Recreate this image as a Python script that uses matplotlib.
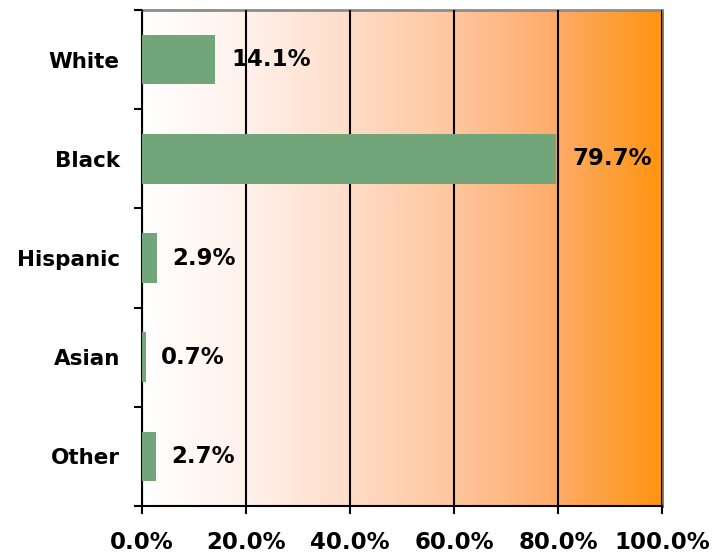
import numpy as np
import matplotlib
matplotlib.use('Agg')
import matplotlib.pyplot as plt
from matplotlib.colors import LinearSegmentedColormap
from matplotlib.ticker import FixedLocator, FuncFormatter

groups = ['White', 'Black', 'Hispanic', 'Asian', 'Other']
shares = [14.1, 79.7, 2.9, 0.7, 2.7]
xticks = [0, 20, 40, 60, 80, 100]

bg = LinearSegmentedColormap.from_list('bg', [
    (0.0, '#ffffff'), (0.2, '#fff1eb'), (0.4, '#ffdcc7'),
    (0.6, '#ffc69e'), (0.8, '#fdab68'), (1.0, '#ff9410')])

fig = plt.figure(figsize=(7.18, 5.54), dpi=100)
ax = fig.add_axes([0.1978, 0.0866, 0.7242, 0.8953])

ax.imshow(np.linspace(0, 1, 256).reshape(1, -1), cmap=bg, aspect='auto',
          extent=[0, 100, -0.5, 4.5], zorder=0)

pos = np.arange(len(groups))
ax.barh(pos, shares, height=0.5, color='#72a57a', zorder=3)
for p, v in zip(pos, shares):
    ax.text(v + 3.0, p, '%.1f%%' % v, va='center', ha='left',
            fontsize=16.5, fontweight='bold', zorder=4)

ax.set_xlim(0, 100)
ax.set_ylim(4.5, -0.5)
ax.set_xticks(xticks)
ax.xaxis.set_major_formatter(FuncFormatter(lambda x, _: '%.1f%%' % x))
ax.grid(axis='x', color='black', lw=1.5, zorder=1)
ax.set_axisbelow(False)

ax.set_yticks(pos)
ax.set_yticklabels(groups)
ax.yaxis.set_minor_locator(FixedLocator(np.arange(-0.5, 5, 1)))
ax.tick_params(axis='y', which='major', length=0, pad=16)
ax.tick_params(axis='y', which='minor', length=6, width=1.5, direction='out')
ax.tick_params(axis='x', length=6, width=1.5, pad=12)
for lab in ax.get_yticklabels():
    lab.set_fontweight('bold')
    lab.set_fontsize(15.5)
for lab in ax.get_xticklabels():
    lab.set_fontweight('bold')
    lab.set_fontsize(16.5)

ax.spines['left'].set_linewidth(1.5)
ax.spines['bottom'].set_linewidth(1.5)
ax.spines['top'].set_color('#8c8c8c')
ax.spines['top'].set_linewidth(2)
ax.spines['right'].set_color('#7a6a50')
ax.spines['right'].set_linewidth(2)

fig.savefig('out.png', dpi=100)
